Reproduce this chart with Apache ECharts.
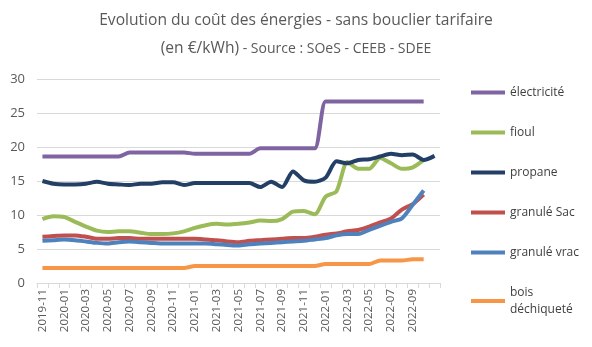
<!DOCTYPE html>
<html><head><meta charset="utf-8">
<script src="https://cdn.jsdelivr.net/npm/echarts@6/dist/echarts.min.js"></script>
<style>html,body{margin:0;padding:0;background:#fff}#c{width:592px;height:347px}</style>
</head><body><div id="c"></div>
<script>
var months = ['2019-11','2019-12','2020-01','2020-02','2020-03','2020-04','2020-05','2020-06','2020-07','2020-08','2020-09','2020-10','2020-11','2020-12','2021-01','2021-02','2021-03','2021-04','2021-05','2021-06','2021-07','2021-08','2021-09','2021-10','2021-11','2021-12','2022-01','2022-02','2022-03','2022-04','2022-05','2022-06','2022-07','2022-08','2022-09','2022-10','2022-11'];
var electricite = [18.6,18.6,18.6,18.6,18.6,18.6,18.6,18.6,19.2,19.2,19.2,19.2,19.2,19.2,19.0,19.0,19.0,19.0,19.0,19.0,19.8,19.8,19.8,19.8,19.8,19.8,26.7,26.7,26.7,26.7,26.7,26.7,26.7,26.7,26.7,26.7];
var fioul = [9.4,9.8,9.7,9.0,8.3,7.7,7.5,7.6,7.6,7.4,7.2,7.2,7.3,7.6,8.1,8.5,8.7,8.6,8.7,8.9,9.2,9.1,9.4,10.5,10.6,10.1,12.7,13.5,17.8,16.8,16.8,18.4,17.6,16.8,17.0,18.1];
var propane = [15.0,14.6,14.5,14.5,14.6,14.9,14.6,14.5,14.4,14.6,14.6,14.8,14.8,14.4,14.7,14.7,14.7,14.7,14.7,14.7,14.1,14.9,14.1,16.4,15.1,14.9,15.5,17.9,17.6,18.1,18.2,18.6,19.0,18.8,18.9,18.1,18.7];
var granuleSac = [6.8,6.9,7.0,7.0,6.8,6.5,6.5,6.6,6.6,6.5,6.5,6.5,6.5,6.5,6.5,6.4,6.3,6.1,6.0,6.2,6.3,6.4,6.5,6.6,6.6,6.8,7.1,7.3,7.6,7.8,8.3,8.9,9.5,10.8,11.6,13.0];
var granuleVrac = [6.2,6.3,6.4,6.3,6.1,5.9,5.8,6.0,6.1,6.0,5.9,5.8,5.8,5.8,5.8,5.8,5.7,5.6,5.5,5.7,5.8,5.9,6.0,6.1,6.2,6.4,6.6,7.0,7.2,7.2,7.8,8.4,9.0,9.5,11.5,13.6];
var bois = [2.2,2.2,2.2,2.2,2.2,2.2,2.2,2.2,2.2,2.2,2.2,2.2,2.2,2.2,2.5,2.5,2.5,2.5,2.5,2.5,2.5,2.5,2.5,2.5,2.5,2.5,2.8,2.8,2.8,2.8,2.8,3.3,3.3,3.3,3.5,3.5];
var seriesNames = ['électricité','fioul','propane','granulé Sac','granulé vrac','bois déchiqueté'];
var seriesData = [electricite, fioul, propane, granuleSac, granuleVrac, bois];
var colors = ['#8064A2','#9BBB59','#243F66','#C0504D','#4F81BD','#F79646'];

var font = '"Open Sans", "Noto Sans", sans-serif';
var chart = echarts.init(document.getElementById('c'), null, {renderer:'canvas'});
chart.setOption({
  animation: false,
  color: colors,
  title: {
    left: 'center', top: 2,
    text: '{a|Evolution du coût des énergies - sans bouclier tarifaire}\n{a|(en €/kWh)}{b| - Source : SOeS - CEEB - SDEE}',
    textStyle: {
      fontWeight: 'normal',
      rich: {
        a: {fontFamily: font, fontSize: 15.6, fontWeight: 'normal', color: '#595959', lineHeight: 28},
        b: {fontFamily: font, fontSize: 14, fontWeight: 'normal', color: '#595959', lineHeight: 28}
      }
    }
  },
  legend: {
    orient: 'vertical', left: 466, top: 79,
    itemWidth: 34, itemHeight: 4, itemGap: 23, icon: 'rect',
    data: seriesNames,
    formatter: function(n){ return n === 'bois déchiqueté' ? 'bois\ndéchiqueté' : n; },
    textStyle: {fontFamily: font, fontSize: 12, color: '#404040', lineHeight: 17}
  },
  grid: {left: 37, right: 152, top: 79, bottom: 64, containLabel: false},
  xAxis: {
    type: 'category', data: months, boundaryGap: true,
    axisLine: {lineStyle: {color: '#D9D9D9'}},
    axisTick: {show: true, interval: 0, length: 5, lineStyle: {color: '#D9D9D9'}},
    axisLabel: {
      interval: function(idx){ return idx % 2 === 0 && idx < months.length - 1; },
      rotate: 90, fontFamily: font, fontSize: 11.5, color: '#595959', margin: 6
    }
  },
  yAxis: {
    type: 'value', min: 0, max: 30, interval: 5,
    axisLine: {show: false}, axisTick: {show: false},
    splitLine: {lineStyle: {color: '#D9D9D9'}},
    axisLabel: {fontFamily: font, fontSize: 13, color: '#595959', margin: 12}
  },
  series: seriesNames.map(function(n, i){
    return {
      name: n, type: 'line', data: seriesData[i], smooth: 0.25,
      showSymbol: false, symbol: 'none',
      lineStyle: {width: 4, color: colors[i]},
      itemStyle: {color: colors[i]}
    };
  })
});
</script></body></html>
